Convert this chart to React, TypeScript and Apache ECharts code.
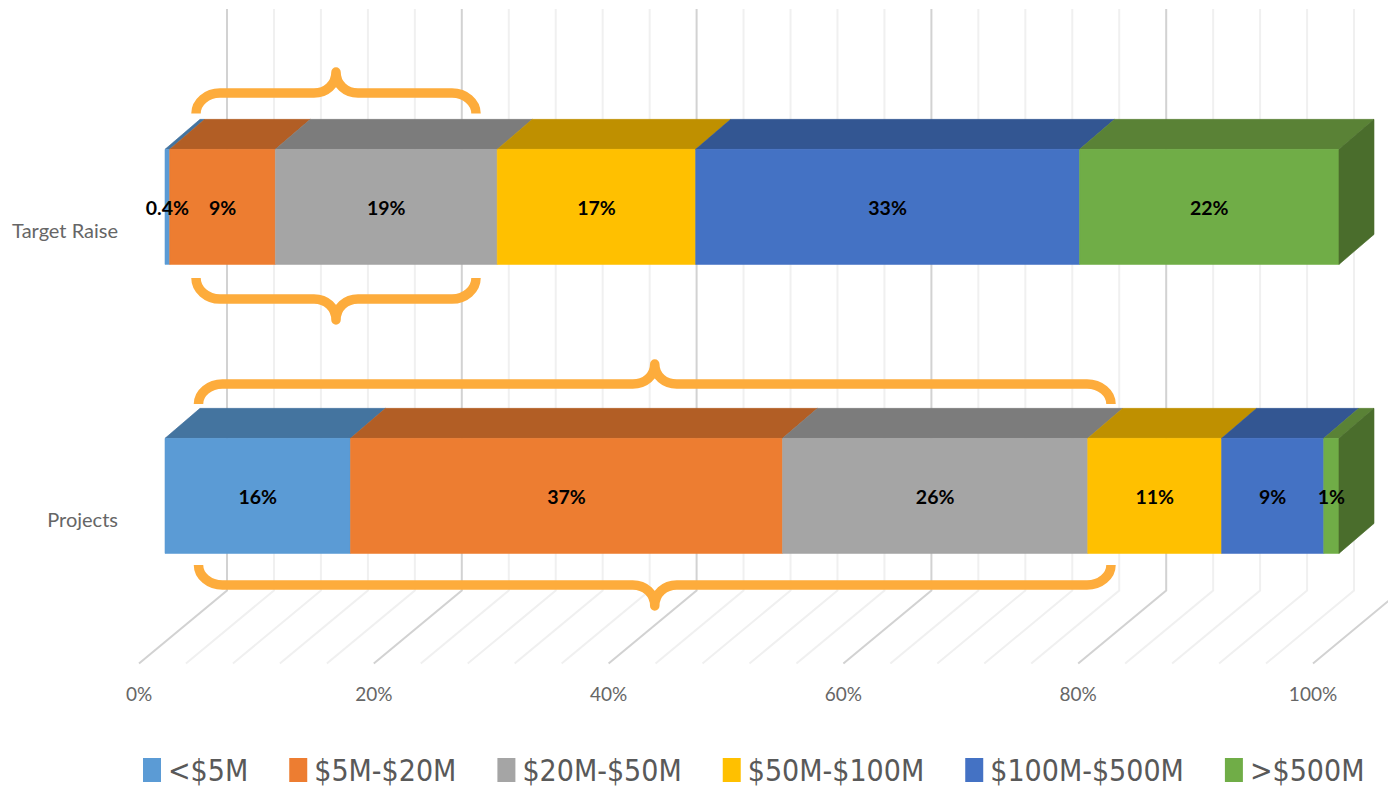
import React, { useEffect, useRef } from "react";
import * as echarts from "echarts";

const categories = ["Target Raise", "Projects"];
const buckets = ["<$5M", "$5M-$20M", "$20M-$50M", "$50M-$100M", "$100M-$500M", ">$500M"];
const targetRaise = [0.4, 9.0, 18.9, 16.9, 32.7, 22.1];
const projects = [15.8, 36.8, 26.0, 11.4, 8.7, 1.3];
const gridTicks = [0, 4, 8, 12, 16, 20, 24, 28, 32, 36, 40, 44, 48, 52, 56, 60, 64, 68, 72, 76, 80, 84, 88, 92, 96, 100];

const frontColors = ["#5B9BD5", "#ED7D31", "#A5A5A5", "#FFC000", "#4472C4", "#70AD47"];
const topColors = ["#44749F", "#B25E25", "#7C7C7C", "#BF9000", "#335692", "#5A8236"];
const sideColor = "#4A6D2C";
const rows = [targetRaise, projects];

const braceD = (x0: number, x1: number, yEnd: number, yBar: number, yTip: number) => {
  const xm = (x0 + x1) / 2;
  const r = 24;
  const q = 22;
  const e1 = yEnd + (yBar - yEnd) * 0.55;
  const t1 = yTip + (yBar - yTip) * 0.6;
  return (
    `M${x0} ${yEnd}C${x0} ${e1} ${x0 + r * 0.45} ${yBar} ${x0 + r} ${yBar}` +
    `L${xm - q} ${yBar}C${xm - q * 0.45} ${yBar} ${xm} ${t1} ${xm} ${yTip}` +
    `C${xm} ${t1} ${xm + q * 0.45} ${yBar} ${xm + q} ${yBar}` +
    `L${x1 - r} ${yBar}C${x1 - r * 0.45} ${yBar} ${x1} ${e1} ${x1} ${yEnd}`
  );
};
const braces = [
  braceD(196, 476, 113.5, 93, 72),
  braceD(196, 476, 278, 299, 320),
  braceD(198.5, 1111, 404, 384, 364),
  braceD(198.5, 1111, 565, 585, 606),
];
braces.forEach((d, i) => {
  echarts.graphic.registerShape("brace" + i, echarts.graphic.extendPath(d, {}));
});

const segmentSeries = (idx: number) => ({
  type: "custom",
  name: buckets[idx],
  itemStyle: { color: frontColors[idx] },
  encode: { x: [0, 1], y: 2 },
  data: rows.map((row, r) => {
    const start = row.slice(0, idx).reduce((a, b) => a + b, 0);
    return [start, start + row[idx], r, row[idx]];
  }),
  renderItem: (_p: any, api: any) => {
    const band = api.size([0, 1])[1];
    const a = api.coord([api.value(0), api.value(2)]);
    const b = api.coord([api.value(1), api.value(2)]);
    const h = band * 0.398;
    const cy = a[1] - band * 0.08;
    const x0 = a[0] + 26;
    const x1 = b[0] + 26;
    const top = cy - h / 2;
    const dx = 35;
    const dy = 30;
    const v = api.value(3);
    const children: any[] = [
      { type: "polygon", shape: { points: [[x0, top], [x0 + dx, top - dy], [x1 + dx, top - dy], [x1, top]] }, style: { fill: topColors[idx], stroke: topColors[idx], lineWidth: 0.6 } },
      { type: "rect", shape: { x: x0, y: top, width: x1 - x0, height: h }, style: { fill: frontColors[idx], stroke: frontColors[idx], lineWidth: 0.6 } },
    ];
    if (idx === buckets.length - 1) {
      children.push({ type: "polygon", shape: { points: [[x1, top], [x1 + dx, top - dy], [x1 + dx, top - dy + h], [x1, top + h]] }, style: { fill: sideColor, stroke: sideColor, lineWidth: 0.6 } });
    }
    children.push({
      type: "text",
      z2: 100,
      x: (x0 + x1) / 2,
      y: cy + 1,
      style: {
        text: (v < 1 ? v.toFixed(1) : Math.round(v).toString()) + "%",
        fill: "#000000",
        font: "bold 19.5px Lato",
        align: "center",
        verticalAlign: "middle",
      },
    });
    return { type: "group", children };
  },
});

const gridSeries = {
  type: "custom",
  name: "grid",
  silent: true,
  z: 1,
  encode: { x: 0 },
  data: gridTicks.map((t) => [t]),
  renderItem: (p: any, api: any) => {
    const t = api.value(0);
    const cs = p.coordSys;
    const x = api.coord([t, 0])[0];
    const yF = cs.y + cs.height;
    const major = t % 20 === 0;
    return {
      type: "polyline",
      shape: { points: [[x, yF], [x + 88, yF - 73], [x + 88, 9]] },
      style: { fill: "none", stroke: major ? "#D2D2D2" : "#F0F0F0", lineWidth: 2 },
    };
  },
};

export default function App() {
  const ref = useRef<HTMLDivElement>(null);
  useEffect(() => {
    const chart = echarts.init(ref.current!, undefined, { renderer: "svg" });
    chart.setOption({
      animation: false,
      backgroundColor: "#FFFFFF",
      grid: { left: 139, right: 75, top: 85.5, bottom: 123.5, containLabel: false },
      xAxis: {
        type: "value",
        min: 0,
        max: 100,
        interval: 20,
        splitLine: { show: false },
        axisLine: { show: false },
        axisTick: { show: false },
        axisLabel: { formatter: "{value}%", color: "#666666", fontFamily: "Lato", fontSize: 19, margin: 20 },
      },
      yAxis: {
        type: "category",
        inverse: true,
        data: categories,
        axisLine: { show: false },
        axisTick: { show: false },
        axisLabel: { color: "#666666", fontFamily: "Lato", fontSize: 20, margin: 21 },
      },
      legend: {
        data: buckets,
        left: 143,
        top: 755,
        padding: 0,
        icon: "rect",
        itemWidth: 18,
        itemHeight: 24,
        itemGap: 41,
        textStyle: { color: "#595959", fontFamily: "DejaVu Sans Condensed", fontSize: 30, padding: [0, 0, 0, 2] },
      },
      graphic: braces.map((_, i) => ({
        type: "brace" + i,
        z: 20,
        silent: true,
        style: { fill: "none", stroke: "#FDAC3C", lineWidth: 9.5, lineJoin: "round", lineCap: "butt" },
      })),
      series: [gridSeries, ...buckets.map((_, i) => segmentSeries(i))],
    });
    return () => chart.dispose();
  }, []);
  return <div ref={ref} style={{ position: "fixed", left: 0, top: 0, width: 1388, height: 787 }} />;
}
